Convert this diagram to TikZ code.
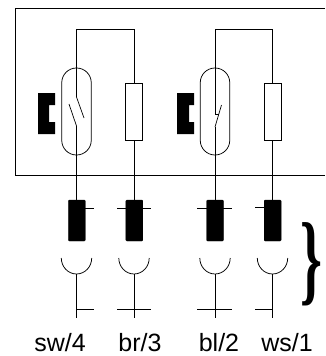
\documentclass[tikz,border=0pt]{standalone}
\usepackage{graphicx}
\usepackage{fontspec}
\setmainfont{Liberation Sans}
\newfontfamily\bracefont{Liberation Serif}
\tikzset{
  wire/.style={line width=0.75pt,draw=black},
  res/.style={draw=black,line width=0.75pt,minimum width=17pt,minimum height=57pt,inner sep=0pt,outer sep=0pt},
  capsule/.style={draw=black,line width=0.75pt,minimum width=29.5pt,minimum height=87pt,rounded corners=14.7pt,inner sep=0pt,outer sep=0pt},
  plug/.style={fill=black,draw=black,line width=0.3pt,minimum width=17pt,minimum height=41pt,rounded corners=1pt,inner sep=0pt,outer sep=0pt},
  magnet/.style={fill=black,line width=0pt},
  lab/.style={font=\fontsize{25}{25}\selectfont,inner sep=0pt,anchor=base},
  thin/.style={line width=0.7pt}
}
\begin{document}
\begin{tikzpicture}[x=1pt,y=-1pt]
\useasboundingbox (0,0) rectangle (325,356);
% housing
\coordinate (hTR) at (325,8); \coordinate (hTL) at (15,8);
\coordinate (hBL) at (15,175); \coordinate (hBR) at (325,175);
\draw[wire] (hTR) -- (hTL) -- (hBL) -- (hBR);
% capsules and resistors
\node[capsule] (capA) at (76.5,111.5) {};
\node[capsule] (capB) at (215,111.5) {};
\node[res] (resA) at (134,111.5) {};
\node[res] (resB) at (272.5,111.5) {};
% magnets
\fill[magnet] (38,93) -- (55,93) -- (55,105) -- (49,105) -- (49,122) -- (55,122) -- (55,134) -- (38,134) -- cycle;
\fill[magnet] (177,93) -- (194,93) -- (194,105) -- (189,105) -- (189,122) -- (194,122) -- (194,134) -- (177,134) -- cycle;
% plugs
\node[plug] (plugA) at (76.8,220.5) {};
\node[plug] (plugB) at (134.3,220.5) {};
\node[plug] (plugC) at (215,220.5) {};
\node[plug] (plugD) at (272.7,220.5) {};
% top wires
\coordinate (topA) at (76.5,29); \coordinate (topB) at (215,29);
\coordinate (swA) at (76.5,97); \coordinate (swAb) at (76.5,126);
\coordinate (swB) at (215,114); \coordinate (swBb) at (215,127);
\draw[wire] (swA) -- (topA) -| (resA.north);
\draw[wire] (swB) -- (topB) -| (resB.north);
\draw[wire] (swAb) -- (plugA.north -| swAb);
\draw[wire] (swBb) -- (plugC.north);
\draw[wire] (resA.south) -- (resA.south |- plugB.north);
\draw[wire] (resB.south) -- (resB.south |- plugD.north);
% switch contacts
\draw[thin] (swA) -- (84,118);
\draw[thin] (swAb) -- (69,104);
\draw[thin] (swBb) -- (221.5,105);
\draw[thin] (swB) -- (219,114);
% plug ticks
\draw[thin] (plugA.east |- 0,208) -- (94,208);
\draw[thin] (117,208) -- (151,208);
\draw[thin] (197,208) -- (232,208);
\draw[thin] (255,207.5) -- (plugD.west |- 0,207.5);
% sockets
\foreach \n/\x/\la/\lb in {A/76.5/76.5/94,B/134/117/151,C/215/197/232,D/272.5/255/272.5}{
  \coordinate (cup\n) at (\x,274);
  \coordinate (end\n) at (\x,318);
  \draw[wire] (\x-15.2,258) arc[start angle=180,end angle=0,x radius=15.2,y radius=16];
  \draw[wire] (cup\n) -- (end\n);
  \draw[thin] (\la,309) -- (\lb,309);
}
% brace
\node[inner sep=0pt] (brace) at (311.5,264) {\bracefont\bfseries\scalebox{.58}[1.05]{\fontsize{96}{96}\selectfont\}}};
% labels
\node[lab] (l1) at (60,351) {sw/4};
\node[lab] (l2) at (140,351) {br/3};
\node[lab] (l3) at (219,351) {bl/2};
\node[lab] (l4) at (287,351) {ws/1};
\end{tikzpicture}
\end{document}
